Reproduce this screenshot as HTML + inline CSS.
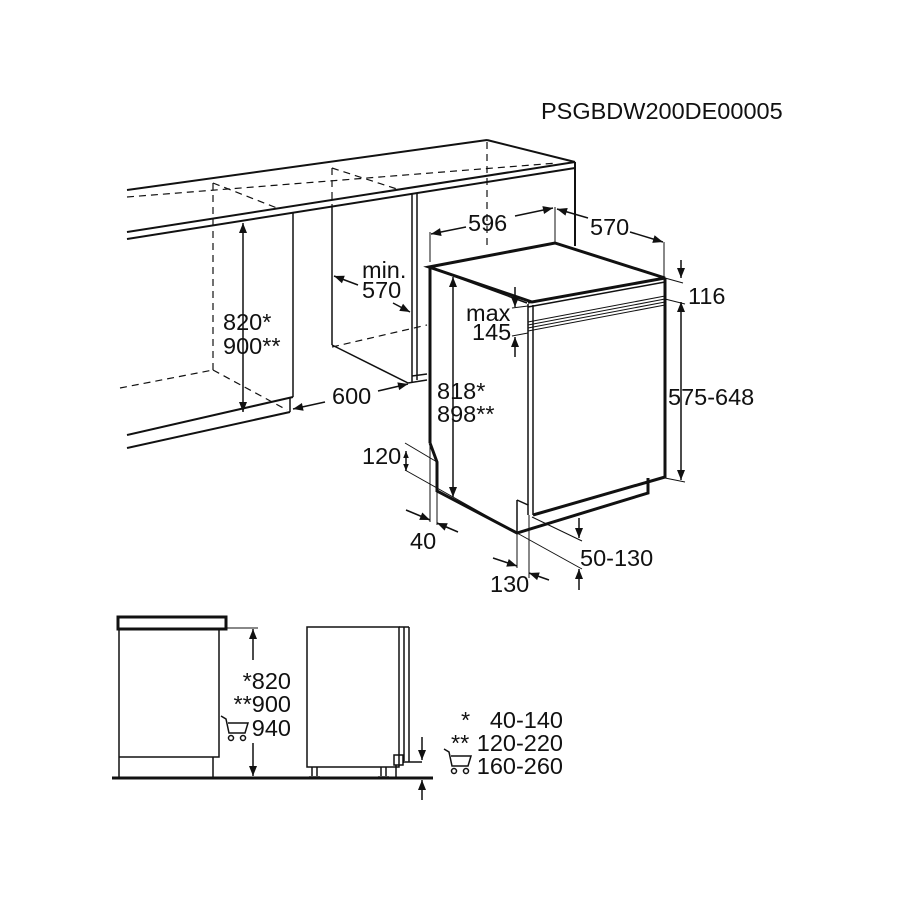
<!DOCTYPE html>
<html><head><meta charset="utf-8"><style>
html,body{margin:0;padding:0;background:#fff;}
svg{display:block;}
text{font-family:"Liberation Sans",Arial,sans-serif;font-size:23.5px;fill:#111;}
</style></head><body>
<svg width="900" height="900" viewBox="0 0 900 900" xmlns="http://www.w3.org/2000/svg">
<defs>
<marker id="a" viewBox="0 0 10 10" refX="10" refY="5" markerWidth="7" markerHeight="7" orient="auto-start-reverse" markerUnits="userSpaceOnUse"><path d="M0,1 L10,5 L0,9 z" fill="#111"/></marker>
<marker id="b" viewBox="0 0 10 10" refX="10" refY="5" markerWidth="12" markerHeight="10" orient="auto-start-reverse" markerUnits="userSpaceOnUse"><path d="M0,1 L10,5 L0,9 z" fill="#111"/></marker>
</defs>
<text x="541" y="119" font-size="25.5">PSGBDW200DE00005</text>

<g stroke="#111" fill="none" stroke-width="1.5">
<line x1="127" y1="190" x2="487" y2="140" stroke-width="2"/>
<line x1="487" y1="140" x2="575" y2="162" stroke-width="2"/>
<line x1="127" y1="232" x2="575" y2="162" stroke-width="2"/>
<line x1="127" y1="239" x2="575" y2="168" stroke-width="2"/>
<line x1="575" y1="162" x2="575" y2="246" stroke-width="2"/>
<g stroke-dasharray="7,5" stroke-width="1.2">
<line x1="127" y1="197" x2="557" y2="163"/>
<line x1="487" y1="142" x2="487" y2="245"/>
<line x1="213" y1="183" x2="213" y2="370"/>
<line x1="213" y1="183" x2="277" y2="208"/>
<line x1="332" y1="168" x2="332" y2="207"/>
<line x1="332" y1="168" x2="400" y2="190"/>
<line x1="213" y1="370" x2="287" y2="410"/>
<line x1="120" y1="388" x2="213" y2="370"/>
<line x1="332" y1="347" x2="427" y2="325"/>
</g>
<line x1="293" y1="213" x2="293" y2="397"/>
<line x1="127" y1="435" x2="293" y2="397" stroke-width="2"/>
<line x1="127" y1="448" x2="290" y2="412" stroke-width="2"/>
<line x1="290" y1="397" x2="290" y2="412"/>
<line x1="332" y1="207" x2="332" y2="345"/>
<line x1="332" y1="345" x2="408" y2="383"/>
<line x1="412" y1="193" x2="412" y2="383"/>
<line x1="417" y1="193" x2="417" y2="380"/>
<line x1="408" y1="383" x2="427" y2="380"/>
<line x1="412" y1="376" x2="427" y2="374"/>

<path d="M429,267 L555,243 L665,278 L532,302 Z" stroke-width="3"/>
<line x1="429" y1="267" x2="527" y2="303" stroke-width="1.5"/>
<line x1="430" y1="267" x2="430" y2="443" stroke-width="3"/>
<path d="M430,443 L437,462 L437,491 L517,533 L648,493 L648,478" stroke-width="3"/>
<line x1="665" y1="278" x2="665" y2="478" stroke-width="3"/>
<line x1="528" y1="304" x2="528" y2="505"/>
<line x1="533" y1="305" x2="533" y2="515"/>
<line x1="533" y1="515" x2="665" y2="477" stroke-width="3"/>
<path d="M517,500 L528,505 L528,515"/>
<line x1="517" y1="500" x2="517" y2="533"/>
<line x1="528" y1="303" x2="665" y2="278" />
<line x1="528" y1="307" x2="665" y2="282"/>
<line x1="528" y1="322" x2="665" y2="296" stroke-width="1"/>
<line x1="528" y1="325" x2="665" y2="299" stroke-width="1"/>
<line x1="528" y1="328" x2="665" y2="302" stroke-width="1"/>
<line x1="528" y1="331" x2="665" y2="305" stroke-width="1"/>

<line x1="243" y1="223" x2="243" y2="412" marker-start="url(#b)" marker-end="url(#b)"/>
<line x1="293" y1="409" x2="325" y2="402" marker-start="url(#b)"/>
<line x1="378" y1="391" x2="408" y2="384" marker-end="url(#b)"/>
<line x1="358" y1="285" x2="334" y2="276" marker-end="url(#b)"/>
<line x1="393" y1="303" x2="410" y2="312" marker-end="url(#b)"/>
<line x1="430" y1="232" x2="430" y2="262" stroke-width="1"/>
<line x1="466" y1="227" x2="431" y2="234" marker-end="url(#b)"/>
<line x1="515" y1="216" x2="553" y2="208" marker-end="url(#b)"/>
<line x1="555" y1="207" x2="555" y2="243" stroke-width="1"/>
<line x1="588" y1="218" x2="557" y2="209" marker-end="url(#b)"/>
<line x1="630" y1="232" x2="663" y2="242" marker-end="url(#b)"/>
<line x1="664" y1="242" x2="664" y2="278" stroke-width="1"/>
<line x1="681" y1="260" x2="681" y2="278" marker-end="url(#b)"/>
<line x1="665" y1="278" x2="683" y2="283" stroke-width="1"/>
<line x1="665" y1="299" x2="685" y2="304" stroke-width="1"/>
<line x1="665" y1="478" x2="685" y2="482" stroke-width="1"/>
<line x1="681" y1="302" x2="681" y2="480" marker-start="url(#b)" marker-end="url(#b)"/>
<line x1="515" y1="287" x2="515" y2="307" marker-end="url(#b)"/>
<line x1="515" y1="357" x2="515" y2="337" marker-end="url(#b)"/>
<line x1="512" y1="308" x2="528" y2="306" stroke-width="1"/>
<line x1="512" y1="336" x2="528" y2="333" stroke-width="1"/>
<line x1="453" y1="277" x2="453" y2="497" marker-start="url(#b)" marker-end="url(#b)"/>
<line x1="406" y1="451" x2="406" y2="471" marker-start="url(#a)" marker-end="url(#a)"/>
<line x1="405" y1="443" x2="437" y2="462" stroke-width="1"/>
<line x1="405" y1="470" x2="517" y2="533" stroke-width="1"/>
<line x1="430" y1="443" x2="430" y2="522" stroke-width="1"/>
<line x1="437" y1="491" x2="437" y2="525" stroke-width="1"/>
<line x1="406" y1="510" x2="430" y2="520" marker-end="url(#b)"/>
<line x1="458" y1="532" x2="437" y2="523" marker-end="url(#b)"/>
<line x1="579" y1="518" x2="579" y2="538" marker-end="url(#b)"/>
<line x1="579" y1="590" x2="579" y2="569" marker-end="url(#b)"/>
<line x1="532" y1="517" x2="582" y2="541" stroke-width="1"/>
<line x1="517" y1="533" x2="582" y2="569" stroke-width="1"/>
<line x1="517" y1="533" x2="517" y2="568" stroke-width="1"/>
<line x1="529" y1="515" x2="529" y2="578" stroke-width="1"/>
<line x1="493" y1="558" x2="517" y2="566" marker-end="url(#b)"/>
<line x1="549" y1="580" x2="529" y2="573" marker-end="url(#b)"/>

<rect x="118" y="617" width="108" height="12" stroke-width="3"/>
<path d="M119,629 L119,778 M219,629 L219,757 L119,757 M213,757 L213,778"/>
<line x1="112" y1="778" x2="433" y2="778" stroke-width="3"/>
<line x1="226" y1="628" x2="258" y2="628" stroke-width="1"/>
<line x1="253" y1="660" x2="253" y2="629" marker-end="url(#b)"/>
<line x1="253" y1="743" x2="253" y2="776" marker-end="url(#b)"/>
<rect x="307" y="627" width="92" height="140"/>
<path d="M404,627 L404,763 M409,627 L409,762 M399,627 L409,627"/>
<rect x="394" y="755" width="9" height="10"/>
<path d="M405,762 L422,762"/>
<path d="M312,767 L312,776 M317,767 L317,776 M309,777 L320,777 M381,767 L381,776 M386,767 L386,776 M378,777 L389,777 M396,765 L396,777" stroke-width="1.5"/>
<line x1="422" y1="737" x2="422" y2="760" marker-end="url(#b)"/>
<line x1="422" y1="800" x2="422" y2="780" marker-end="url(#b)"/>
</g>

<text x="468" y="231">596</text>
<text x="590" y="235">570</text>
<text x="688" y="304">116</text>
<text x="668" y="405">575-648</text>
<text x="466" y="321">max</text>
<text x="472" y="340">145</text>
<text x="437" y="399">818*</text>
<text x="437" y="422">898**</text>
<text x="362" y="278">min.</text>
<text x="362" y="298">570</text>
<text x="223" y="330">820*</text>
<text x="223" y="354">900**</text>
<text x="332" y="404">600</text>
<text x="362" y="464">120</text>
<text x="410" y="549">40</text>
<text x="580" y="566">50-130</text>
<text x="490" y="592">130</text>

<text x="291" y="689" text-anchor="end">*820</text>
<text x="291" y="712" text-anchor="end">**900</text>
<text x="291" y="736" text-anchor="end">940</text>
<text x="563" y="728" text-anchor="end">40-140</text>
<text x="563" y="751" text-anchor="end">120-220</text>
<text x="563" y="774" text-anchor="end">160-260</text>
<text x="461" y="728">*</text>
<text x="451" y="751">**</text>
<g stroke="#111" fill="none" stroke-width="1.5">
<path d="M221,716 L226,719 L229,733 L245,733 L248,723 L228,723"/>
<circle cx="231" cy="738" r="2.5"/><circle cx="243" cy="738" r="2.5"/>
<path d="M444,749 L449,752 L452,766 L468,766 L471,756 L451,756"/>
<circle cx="454" cy="771" r="2.5"/><circle cx="466" cy="771" r="2.5"/>
</g>
</svg>
</body></html>
